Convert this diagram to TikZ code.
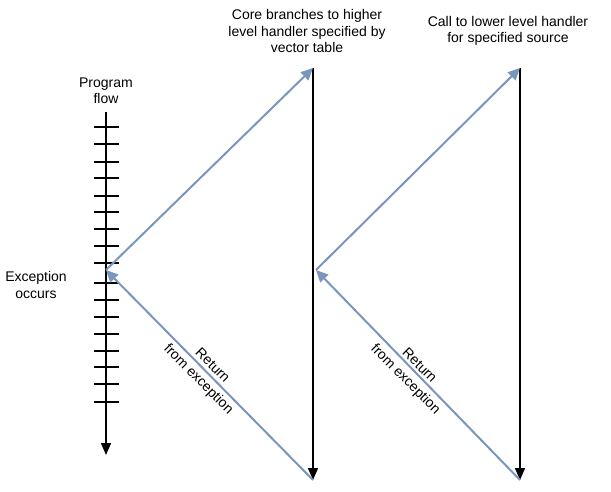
\documentclass[tikz,border=0pt]{standalone}
\usepackage{fontspec}
\setmainfont{Liberation Sans}
\usetikzlibrary{arrows.meta}
\begin{document}
\begin{tikzpicture}[x=1pt,y=-1pt,
  lbl/.style={align=center,font=\fontsize{14}{16.5}\selectfont,inner sep=0},
  blue/.style={draw={rgb,255:red,120;green,150;blue,190},line width=2pt,-{Triangle[length=12pt,width=11pt]}},
  blk/.style={draw=black,line width=1.6pt,-{Triangle[length=12pt,width=10pt]}}]
\useasboundingbox (0,0) rectangle (611,492);
\coordinate (pt) at (106,112);
\coordinate (pb) at (106,455);
\coordinate (e1) at (106,270);
\coordinate (e2) at (316,270);
\coordinate (t1) at (313,68);
\coordinate (b1) at (313,480);
\coordinate (t2) at (520,68);
\coordinate (b2) at (520,480);
\draw[blk] (pt) -- (pb);
\foreach \y in {127.3,144.3,161.7,178.3,195.7,212.3,229.3,246,263.3,282.7,300,316.7,334,350.7,367.3,384,401.7}
  \draw[line width=2pt] (94,\y) -- (118.7,\y);
\draw[blk] (t1) -- (b1);
\draw[blk] (t2) -- (b2);
\draw[blue] (e1) -- (t1);
\draw[blue] (b1) -- (e1);
\draw[blue] (e2) -- (t2);
\draw[blue] (b2) -- (e2);
\node[lbl] (pf) at (106,91) {Program\\flow};
\node[lbl] (eo) at (36,285) {Exception\\occurs};
\node[lbl] (c1) at (307,31) {Core branches to higher\\level handler specified by\\vector table};
\node[lbl] (c2) at (508,31) {Call to lower level handler\\for specified source};
\node[lbl,rotate=-45] (r1) at (205,373) {Return\\[3pt]from exception};
\node[lbl,rotate=-45] (r2) at (412,373) {Return\\[3pt]from exception};
\end{tikzpicture}
\end{document}
